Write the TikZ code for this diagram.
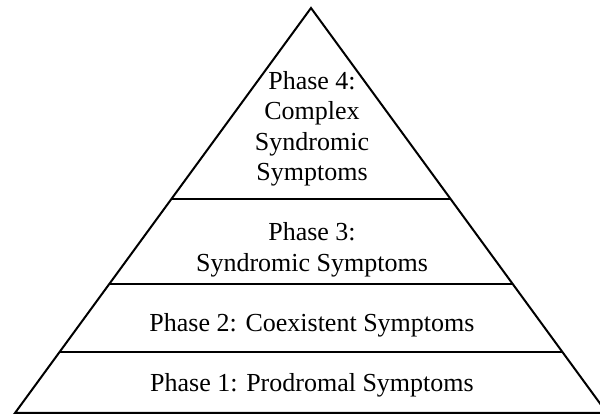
\documentclass[tikz,border=0pt]{standalone}
\usepackage{fontspec}
\setmainfont{Liberation Serif}
\usepackage{tikz}
\usetikzlibrary{calc, positioning}

\begin{document}
\begin{tikzpicture}[
    x=1pt, y=1pt,
    % Define standard styles for the pyramid
    outline/.style={
        draw=black,
        line width=2pt,
        line join=miter
    },
    tierline/.style={
        draw=black,
        line width=2pt
    },
    phaselabel/.style={
        align=center,
        inner sep=0pt,
        font=\fontsize{26}{30.5}\selectfont
    }
]
\useasboundingbox (0,0) rectangle (600,415);

% --- Corners ---
\coordinate (apex) at (311,407);
\coordinate (bl) at (15,2);
\coordinate (br) at (607,2);

% Pyramid outline
\draw[outline] (bl) -- (apex) -- (br) -- cycle;

% Tier separators (fraction of the way from apex to base)
\foreach \t in {0.4716, 0.6815, 0.8494}
    \draw[tierline] ($(apex)!\t!(bl)$) -- ($(apex)!\t!(br)$);

% --- Labels ---
\node[phaselabel] (phase4) at (312,286) {Phase 4:\\Complex\\Syndromic\\Symptoms};
\node[phaselabel] (phase3) at (312,165) {Phase 3:\\Syndromic Symptoms};
\node[phaselabel] (phase2) at (312,90) {Phase 2: Coexistent Symptoms};
\node[phaselabel] (phase1) at (312,30) {Phase 1: Prodromal Symptoms};

\end{tikzpicture}
\end{document}
